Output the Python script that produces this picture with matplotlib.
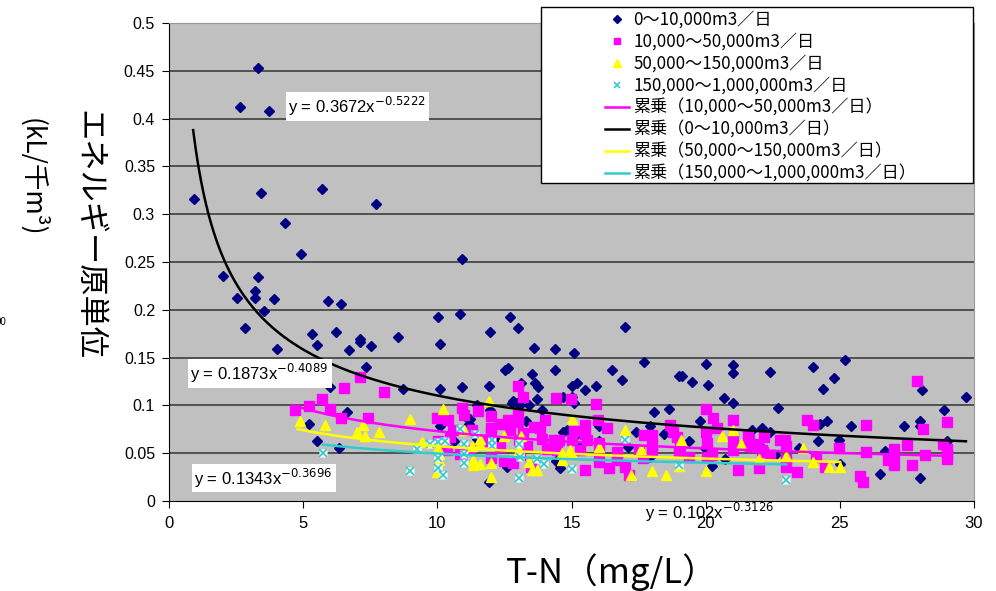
import matplotlib
matplotlib.use('Agg')
import numpy as np
import matplotlib.pyplot as plt
from matplotlib.lines import Line2D
from matplotlib.patches import Rectangle

JP = ['Noto Sans CJK JP', 'DejaVu Sans']
NUM = ['Liberation Sans', 'DejaVu Sans']

# 0~10,000 m3/day
blue_x = [0.92, 2.02, 2.53, 2.63, 2.84, 3.22, 3.22, 3.32, 3.32, 3.42, 3.53, 3.72, 3.92, 4.03,
          4.33, 4.92, 5.21, 5.32, 5.52, 5.52, 5.72, 5.92, 6.01, 6.23, 6.33, 6.41, 6.64, 6.72,
          7.10, 7.13, 7.33, 7.53, 7.72, 8.52, 8.71, 10.03, 10.11, 10.11, 10.11, 10.34, 10.61,
          10.86, 10.91, 10.92, 11.04, 11.17, 11.23, 11.48, 11.48, 11.91, 11.91, 11.97, 11.97,
          12.22, 12.35, 12.53, 12.63, 12.60, 12.66, 12.71, 12.78, 12.83, 12.97, 13.00, 13.09,
          13.12, 13.40, 13.31, 13.53, 13.61, 13.65, 13.71, 13.77, 13.90, 14.39, 14.39, 14.43,
          14.58, 14.70, 14.70, 14.83, 15.02, 15.02, 15.11, 15.11, 15.20, 15.20, 15.33, 15.51,
          15.91, 16.01, 16.01, 16.51, 16.90, 17.01, 17.12, 17.40, 17.71, 17.93, 17.93, 18.09,
          18.43, 18.62, 19.01, 19.12, 19.39, 19.49, 19.80, 19.98, 20.01, 20.10, 20.23, 20.69,
          20.73, 21.0, 21.0, 21.0, 21.72, 22.0, 22.09, 22.40, 22.40, 22.59, 22.69, 23.46,
          24.00, 24.20, 24.26, 24.39, 24.51, 24.80, 24.98, 25.01, 25.20, 25.41, 26.50, 26.69,
          27.38, 27.99, 27.99, 27.99, 28.07, 28.89, 28.98, 29.69]
blue_y = [0.316, 0.235, 0.212, 0.412, 0.181, 0.220, 0.212, 0.453, 0.234, 0.322, 0.199, 0.408, 0.211, 0.159,
          0.291, 0.258, 0.081, 0.175, 0.163, 0.063, 0.326, 0.209, 0.119, 0.177, 0.055, 0.206, 0.093, 0.158,
          0.169, 0.166, 0.140, 0.162, 0.311, 0.172, 0.117, 0.192, 0.164, 0.117, 0.078, 0.056, 0.063,
          0.196, 0.253, 0.119, 0.0885, 0.081, 0.086, 0.100, 0.065, 0.120, 0.020, 0.0948, 0.177,
          0.063, 0.081, 0.137, 0.139, 0.036, 0.042, 0.192, 0.102, 0.105, 0.102, 0.181, 0.100,
          0.123, 0.100, 0.0836, 0.133, 0.160, 0.123, 0.107, 0.119, 0.0955, 0.159, 0.137, 0.042,
          0.035, 0.109, 0.072, 0.0745, 0.120, 0.109, 0.155, 0.103, 0.123, 0.0696, 0.056, 0.116,
          0.120, 0.078, 0.063, 0.137, 0.127, 0.182, 0.056, 0.0717, 0.145, 0.078, 0.046, 0.093,
          0.070, 0.096, 0.131, 0.1305, 0.063, 0.124, 0.084, 0.055, 0.143, 0.121, 0.037, 0.108,
          0.044, 0.142, 0.1335, 0.102, 0.0738, 0.059, 0.0767, 0.1346, 0.072, 0.0476, 0.0976, 0.0557,
          0.140, 0.063, 0.081, 0.117, 0.084, 0.129, 0.064, 0.039, 0.147, 0.078, 0.0285, 0.0518,
          0.078, 0.0836, 0.078, 0.0243, 0.116, 0.0948, 0.063, 0.109]

# 10,000~50,000 m3/day
mag_x = [4.71, 5.21, 5.71, 6.01, 6.42, 6.51, 7.13, 7.40, 8.00, 10.0, 10.01, 10.36, 10.38, 10.46,
         10.58, 10.86, 10.92, 11.0, 11.23, 11.29, 11.50, 11.67, 12.0, 12.0, 12.0, 12.0, 12.32,
         12.35, 12.50, 12.62, 12.71, 12.82, 12.99, 12.99, 12.99, 13.03, 13.09, 13.21, 13.21,
         13.34, 13.50, 13.59, 13.84, 13.90, 14.02, 14.09, 14.33, 14.43, 14.46, 14.52, 14.99,
         15.02, 15.11, 15.33, 15.49, 15.49, 15.51, 15.58, 15.91, 15.99, 16.01, 16.01, 16.01,
         16.32, 16.41, 16.69, 16.69, 17.00, 17.13, 17.50, 17.68, 17.72, 18.0, 18.0, 18.0, 18.68,
         18.80, 18.93, 19.05, 18.99, 19.39, 20.01, 20.01, 20.04, 20.04, 20.23, 20.29, 20.42,
         21.0, 21.0, 21.0, 21.2, 21.59, 21.63, 21.66, 21.78, 21.91, 21.99, 22.09, 22.15, 22.19,
         22.40, 22.77, 22.96, 23.0, 23.0, 23.0, 23.40, 23.79, 23.99, 24.12, 24.45, 24.98, 25.75,
         25.88, 25.98, 25.98, 26.81, 27.0, 27.0, 27.0, 27.49, 27.68, 27.89, 28.09, 28.17, 28.86,
         28.98, 28.98, 28.98, 28.98]
mag_y = [0.0955, 0.099, 0.107, 0.0958, 0.0864, 0.1185, 0.130, 0.0864, 0.1136, 0.087, 0.063, 0.0536, 0.085, 0.0668,
         0.0746, 0.0494, 0.097, 0.0895, 0.053, 0.0746, 0.094, 0.063, 0.0885, 0.0767, 0.072, 0.045, 0.0808,
         0.057, 0.0417, 0.085, 0.0738, 0.0396, 0.120, 0.0895, 0.0825, 0.064, 0.0476, 0.109, 0.071,
         0.058, 0.036, 0.0773, 0.0767, 0.0651, 0.0843, 0.0547, 0.0634, 0.108, 0.053, 0.0634, 0.107,
         0.0634, 0.073, 0.053, 0.080, 0.0703, 0.032, 0.064, 0.101, 0.0843, 0.0605, 0.052, 0.0406,
         0.0767, 0.0348, 0.051, 0.043, 0.0354, 0.0267, 0.0529, 0.045, 0.0686, 0.0686, 0.0581, 0.0511, 0.079,
         0.072, 0.0668, 0.0571, 0.0511, 0.0459, 0.0965, 0.072, 0.0605, 0.0459, 0.0476, 0.087, 0.0767,
         0.0843, 0.065, 0.0536, 0.0327, 0.0686, 0.0634, 0.058, 0.057, 0.060, 0.0348, 0.0529, 0.051, 0.0668,
         0.0476, 0.064, 0.0634, 0.058, 0.0442, 0.036, 0.0302, 0.0843, 0.079, 0.0459, 0.036, 0.0557, 0.0257,
         0.0197, 0.079, 0.051, 0.0424, 0.0547, 0.0487, 0.0372, 0.059, 0.0372, 0.126, 0.075, 0.0476, 0.0592,
         0.083, 0.0547, 0.0494, 0.0442]

# 50,000~150,000 m3/day
yel_x = [4.90, 5.80, 7.01, 7.22, 7.32, 7.81, 8.99, 9.43, 9.99, 10.01, 10.05, 10.05, 10.21, 11.0,
         11.29, 11.33, 11.33, 11.58, 11.60, 11.60, 11.91, 12.0, 12.01, 12.50, 13.03, 13.12, 13.40,
         13.53, 13.71, 14.64, 14.64, 14.95, 15.02, 15.02, 16.01, 17.0, 17.20, 17.60, 18.0, 18.52,
         19.01, 19.09, 20.01, 20.60, 21.0, 21.31, 22.0, 23.0, 23.62, 23.99, 24.61, 25.01]
yel_y = [0.0836, 0.079, 0.072, 0.080, 0.0675, 0.072, 0.086, 0.0616, 0.030, 0.0557, 0.049, 0.043, 0.0965, 0.0746,
         0.058, 0.0424, 0.0372, 0.060, 0.065, 0.0382, 0.105, 0.025, 0.0396, 0.0675, 0.0529, 0.0675, 0.0406,
         0.032, 0.032, 0.050, 0.0424, 0.0529, 0.086, 0.049, 0.0563, 0.0746, 0.0277, 0.0547, 0.0309, 0.0274,
         0.037, 0.064, 0.0309, 0.0675, 0.0738, 0.060, 0.0442, 0.0466, 0.0557, 0.0406, 0.0354, 0.036]

# 150,000~1,000,000 m3/day
cyan_x = [5.73, 8.99, 9.24, 9.71, 10.01, 10.01, 10.01, 10.21, 10.30, 10.83, 11.0, 11.0, 11.0,
          11.42, 12.04, 12.04, 13.03, 13.09, 13.03, 13.71, 13.96, 15.02, 17.0, 19.01, 23.0]
cyan_y = [0.0505, 0.0309, 0.0547, 0.060, 0.0616, 0.045, 0.0348, 0.0267, 0.0623, 0.0756, 0.0592, 0.0494, 0.0396,
          0.0696, 0.0634, 0.058, 0.0592, 0.0459, 0.0243, 0.0442, 0.039, 0.0337, 0.0634, 0.0372, 0.0215]

# power trendlines y = a * x^b  (coefficients as shown on the chart)
trend_a = [0.1873, 0.3672, 0.1343, 0.102]
trend_b = [-0.4089, -0.5222, -0.3696, -0.3126]
trend_x0 = [4.71, 0.9, 4.8, 5.73]
trend_x1 = [28.98, 29.7, 25.01, 23.0]
trend_colors = ['#FF00FF', '#000000', '#FFFF00', '#33CCCC']

labels = ['0～10,000m3／日', '10,000～50,000m3／日', '50,000～150,000m3／日',
          '150,000～1,000,000m3／日', '累乗（10,000～50,000m3／日）', '累乗（0～10,000m3／日）',
          '累乗（50,000～150,000m3／日）', '累乗（150,000～1,000,000m3／日）']

fig = plt.figure(figsize=(9.96, 5.91), dpi=100)
ax = fig.add_axes([169 / 996, 1 - 501 / 591, 805 / 996, 478 / 591])
ax.set_facecolor('#C0C0C0')

ax.set_xlim(0, 30)
ax.set_ylim(0, 0.5)
yt = [0, 0.05, 0.1, 0.15, 0.2, 0.25, 0.3, 0.35, 0.4, 0.45, 0.5]
for v in yt[1:-1]:
    ax.axhline(v, color='#333333', lw=1.1, zorder=1)

ax.plot(blue_x, blue_y, 'D', color='#000080', ms=5, mec='#000080', zorder=3)
ax.plot(mag_x, mag_y, 's', color='#FF00FF', ms=6.5, mec='#FF00FF', zorder=4)
ax.plot(yel_x, yel_y, '^', color='#FFFF00', ms=7, mec='#FFFF00', zorder=5)
ax.plot(cyan_x, cyan_y, 's', color='white', ms=5.5, mec='none', zorder=6)
ax.plot(cyan_x, cyan_y, 'x', color='#33CCCC', ms=5.5, mew=1.3, zorder=7)

for a, b, x0, x1, c in zip(trend_a, trend_b, trend_x0, trend_x1, trend_colors):
    xs = np.linspace(x0, x1, 300)
    ax.plot(xs, a * xs ** b, color=c, lw=1.8, zorder=8)

box = dict(facecolor='white', edgecolor='none', pad=2)
ax.text(4.45, 0.413, r'y = 0.3672x$^{-0.5222}$', fontsize=12, family=NUM, va='center', bbox=box, zorder=9)
ax.text(0.8, 0.133, r'y = 0.1873x$^{-0.4089}$', fontsize=12, family=NUM, va='center', bbox=box, zorder=9)
ax.text(0.95, 0.024, r'y = 0.1343x$^{-0.3696}$', fontsize=12, family=NUM, va='center', bbox=box, zorder=9)
ax.text(17.75, -0.012, r'y = 0.102x$^{-0.3126}$', fontsize=12, family=NUM, va='center', clip_on=False, zorder=9)

ax.set_xticks([0, 5, 10, 15, 20, 25, 30])
ax.set_yticks(yt)
ax.set_yticklabels(['0', '0.05', '0.1', '0.15', '0.2', '0.25', '0.3', '0.35', '0.4', '0.45', '0.5'])
ax.tick_params(axis='x', direction='out', length=5, pad=6, labelsize=12)
ax.tick_params(axis='y', direction='out', length=5, pad=5, labelsize=11.5)
for t in ax.get_xticklabels() + ax.get_yticklabels():
    t.set_family(NUM)
ax.spines['left'].set_color('black')
ax.spines['bottom'].set_color('black')
ax.spines['top'].set_color('#999999')
ax.spines['right'].set_color('#999999')

fig.text(0.614, 0.032, 'T-N（mg/L）', fontsize=25, family=JP, ha='center', va='center')
fig.text(0.089, 0.602, 'エネルギー原単位', fontsize=22.5, family=JP, rotation=270, ha='center', va='center')
fig.text(0.033, 0.700, '(kL/千m³)', fontsize=19, family=JP, rotation=270, ha='center', va='center')
fig.text(-0.004, 0.455, '00', fontsize=7, family=NUM, va='center')

# legend frame drawn separately
fig.patches.append(Rectangle((541 / 996, 1 - 183 / 591), 432 / 996, 176 / 591,
                             transform=fig.transFigure, facecolor='white', edgecolor='black',
                             lw=1, zorder=5))
handles = [
    Line2D([], [], ls='none', marker='D', color='#000080', ms=4),
    Line2D([], [], ls='none', marker='s', color='#FF00FF', ms=5),
    Line2D([], [], ls='none', marker='^', color='#FFFF00', ms=5.5),
    Line2D([], [], ls='none', marker='x', color='#33CCCC', ms=5, mew=1.2),
    Line2D([], [], color='#FF00FF', lw=1.8),
    Line2D([], [], color='#000000', lw=1.8),
    Line2D([], [], color='#FFFF00', lw=1.8),
    Line2D([], [], color='#33CCCC', lw=1.8),
]
leg = fig.legend(handles, labels, loc='upper left', bbox_to_anchor=(605 / 996, 1 - 11 / 591),
                 frameon=False, borderpad=0, borderaxespad=0, handlelength=1.4,
                 handletextpad=0.25, labelspacing=0.235, prop={'family': JP, 'size': 12.3})
leg.set_zorder(6)

fig.savefig('out.png', dpi=100)
plt.close(fig)
